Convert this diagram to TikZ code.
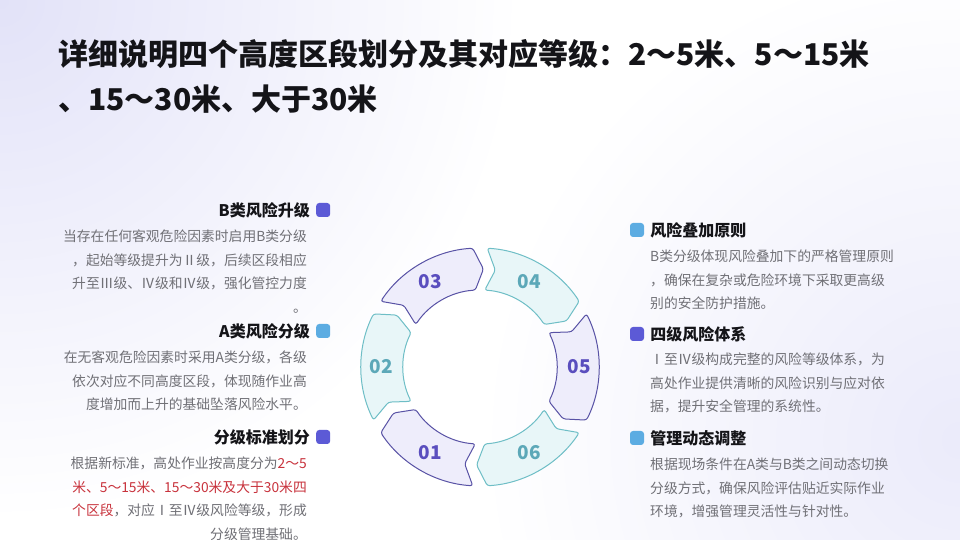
\documentclass[tikz,border=0pt]{standalone}
\usepackage{fontspec}
\newfontfamily\cjk{Noto Sans CJK SC}
\usetikzlibrary{positioning}
\definecolor{hInk}{RGB}{20,20,24}
\definecolor{bGray}{RGB}{112,112,118}
\definecolor{rRed}{RGB}{200,50,60}
\definecolor{mkPurple}{RGB}{92,90,214}
\definecolor{mkBlue}{RGB}{92,172,226}
\definecolor{rPurple}{RGB}{88,82,165}
\definecolor{rPurpleL}{RGB}{238,237,251}
\definecolor{rTeal}{RGB}{110,190,198}
\definecolor{rTealL}{RGB}{232,246,248}
\definecolor{nPurple}{RGB}{90,78,190}
\definecolor{nTeal}{RGB}{92,168,184}
\definecolor{bgLav}{RGB}{226,226,248}
\tikzset{
title/.style={anchor=north west,inner sep=0pt,align=left,font=\cjk\bfseries\fontsize{30}{45}\selectfont,text=hInk},
headL/.style={anchor=east,inner sep=0pt,font=\cjk\bfseries\fontsize{16}{18}\selectfont,text=hInk},
headR/.style={anchor=west,inner sep=0pt,font=\cjk\bfseries\fontsize{16}{18}\selectfont,text=hInk},
bodyL/.style={anchor=north east,inner sep=0pt,align=right,font=\cjk\fontsize{13.8}{23.5}\selectfont,text=bGray},
bodyR/.style={anchor=north west,inner sep=0pt,align=left,font=\cjk\fontsize{13.8}{23.5}\selectfont,text=bGray},
tagbox/.style={rectangle,rounded corners=3pt,minimum size=14pt,inner sep=0pt},
segP/.style={draw=rPurple,fill=rPurpleL,line width=1pt,rounded corners=2.5pt},
segT/.style={draw=rTeal,fill=rTealL,line width=1pt,rounded corners=2.5pt},
num/.style={font=\cjk\bfseries\fontsize{19}{20}\selectfont}
}
\begin{document}
\begin{tikzpicture}[x=1pt,y=1pt]
\useasboundingbox (0,0) rectangle (960,540);
\fill[white] (0,0) rectangle (960,540);
\shade[inner color=bgLav,outer color=white] (0,540) circle (520);
\shade[inner color=bgLav!70,outer color=white] (960,100) circle (480);
% title
\node[title] (ttl) at (58,501) {详细说明四个高度区段划分及其对应等级：2～5米、5～15米\\、15～30米、大于30米};
% left column
\node[headL] (hb) at (310,330) {B类风险升级};
\node[tagbox,fill=mkPurple,right=6pt of hb] (mb) {};
\node[bodyL] (tb) at (307,310) {当存在任何客观危险因素时启用B类分级\\，起始等级提升为Ⅱ级，后续区段相应\\升至Ⅲ级、Ⅳ级和Ⅳ级，强化管控力度\\。};
\node[headL] (ha) at (310,209) {A类风险分级};
\node[tagbox,fill=mkBlue,right=6pt of ha] (ma) {};
\node[bodyL] (ta) at (307,189) {在无客观危险因素时采用A类分级，各级\\依次对应不同高度区段，体现随作业高\\度增加而上升的基础坠落风险水平。};
\node[headL] (hs) at (310,103) {分级标准划分};
\node[tagbox,fill=mkPurple,right=6pt of hs] (ms) {};
\node[bodyL] (ts) at (307,83) {根据新标准，高处作业按高度分为\textcolor{rRed}{2～5}\\\textcolor{rRed}{米、5～15米、15～30米及大于30米四}\\\textcolor{rRed}{个区段}，对应Ⅰ至Ⅳ级风险等级，形成\\分级管理基础。};
% right column
\node[tagbox,fill=mkBlue] (mo) at (637,310) {};
\node[headR,right=6pt of mo] (ho) {风险叠加原则};
\node[bodyR] (to) at (650,290) {B类分级体现风险叠加下的严格管理原则\\，确保在复杂或危险环境下采取更高级\\别的安全防护措施。};
\node[tagbox,fill=mkPurple] (mf) at (637,206) {};
\node[headR,right=6pt of mf] (hf) {四级风险体系};
\node[bodyR] (tf) at (650,187) {Ⅰ至Ⅳ级构成完整的风险等级体系，为\\高处作业提供清晰的风险识别与应对依\\据，提升安全管理的系统性。};
\node[tagbox,fill=mkBlue] (md) at (637,102) {};
\node[headR,right=6pt of md] (hd) {管理动态调整};
\node[bodyR] (td) at (650,82) {根据现场条件在A类与B类之间动态切换\\分级方式，确保风险评估贴近实际作业\\环境，增强管理灵活性与针对性。};
% ring of six arrow segments
\begin{scope}[shift={(480,173)}]
\foreach \a/\n/\s/\c in {240/01/segP/nPurple,180/02/segT/nTeal,120/03/segP/nPurple,60/04/segT/nTeal,0/05/segP/nPurple,-60/06/segT/nTeal}{
  \draw[\s] (\a+26.5:119) arc[start angle=\a+26.5,end angle=\a-26.5,radius=119]
    -- (\a-32:98) -- (\a-26.5:77)
    arc[start angle=\a-26.5,end angle=\a+26.5,radius=77]
    -- (\a+21:98) -- cycle;
  \node[num,text=\c] (n\n) at (\a:99) {\n};
}
\end{scope}
\end{tikzpicture}
\end{document}
